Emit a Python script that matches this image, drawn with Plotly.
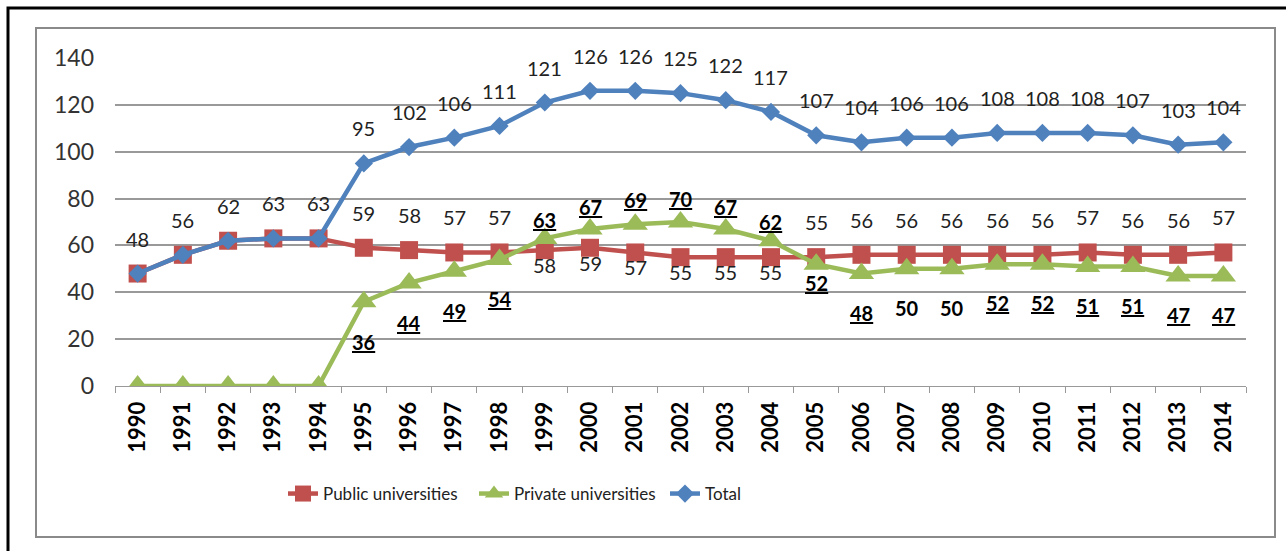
import plotly.graph_objects as go

years = [str(y) for y in range(1990, 2015)]
public = [48, 56, 62, 63, 63, 59, 58, 57, 57, 58, 59, 57, 55, 55, 55, 55, 56, 56, 56, 56, 56, 57, 56, 56, 57]
private = [0, 0, 0, 0, 0, 36, 44, 49, 54, 63, 67, 69, 70, 67, 62, 52, 48, 50, 50, 52, 52, 51, 51, 47, 47]
total = [48, 56, 62, 63, 63, 95, 102, 106, 111, 121, 126, 126, 125, 122, 117, 107, 104, 106, 106, 108, 108, 108, 107, 103, 104]
y_ticks = [0, 20, 40, 60, 80, 100, 120, 140]

# label styling (offsets in pixels, not data)
public_shift = [None] * 5 + [35] * 4 + [-15] * 6 + [35] * 10
private_shift = [None] * 5 + [-40] * 4 + [18, 22, 24, 23, 22, 19] + [-19] + [-39] * 9
private_underline = [True] * 25
private_underline[17] = False
private_underline[18] = False

RED = "#C0504D"
GREEN = "#9BBB59"
BLUE = "#4F81BD"
FONT = "Lato"

ML, MR, MT, MB = 115, 40, 58, 165
W, H = 1286, 551
PW, PH = W - ML - MR, H - MT - MB


def px(x):
    return (x - ML) / PW


def py(y):
    return (H - MB - y) / PH


fig = go.Figure()
fig.add_trace(go.Scatter(
    x=years, y=public, name="Public universities", mode="lines+markers",
    line=dict(color=RED, width=4.5),
    marker=dict(symbol="square", size=18, color=RED)))
fig.add_trace(go.Scatter(
    x=years, y=private, name="Private universities", mode="lines+markers",
    line=dict(color=GREEN, width=4.5),
    marker=dict(symbol="triangle-up", size=22, color=GREEN)))
fig.add_trace(go.Scatter(
    x=years, y=total, name="Total", mode="lines+markers",
    line=dict(color=BLUE, width=4.5),
    marker=dict(symbol="diamond", size=14, color=BLUE)))

annotations = []
for i, yr in enumerate(years):
    annotations.append(dict(x=i, y=total[i], xref="x", yref="y", text=str(total[i]), yshift=35,
                            showarrow=False, font=dict(family=FONT, size=20, color="#222")))
    if public_shift[i] is not None:
        annotations.append(dict(x=i, y=public[i], xref="x", yref="y", text=str(public[i]),
                                yshift=public_shift[i], showarrow=False,
                                font=dict(family=FONT, size=20, color="#222")))
    if private_shift[i] is not None:
        t = f"<b>{private[i]}</b>"
        if private_underline[i]:
            t = f"<u>{t}</u>"
        annotations.append(dict(x=i, y=private[i], xref="x", yref="y", text=t,
                                yshift=private_shift[i], showarrow=False,
                                font=dict(family=FONT, size=20, color="#000")))

shapes = [
    dict(type="rect", xref="paper", yref="paper",
         x0=px(8), x1=px(1292), y0=py(8), y1=py(560),
         line=dict(color="#000", width=3), layer="below"),
    dict(type="rect", xref="paper", yref="paper",
         x0=px(36), x1=px(1275), y0=py(28), y1=py(537),
         line=dict(color="#8a8a8a", width=2), layer="below"),
]

fig.update_layout(
    width=W, height=H,
    margin=dict(l=ML, r=MR, t=MT, b=MB),
    paper_bgcolor="white", plot_bgcolor="white",
    font=dict(family=FONT, size=18, color="#222"),
    showlegend=True,
    legend=dict(orientation="h", x=px(283), xanchor="left", y=py(494), yanchor="middle",
                font=dict(family=FONT, size=17, color="#222"),
                itemwidth=30, tracegroupgap=0,
                entrywidth=146, entrywidthmode="pixels"),
    annotations=annotations,
    shapes=shapes,
    xaxis=dict(type="category", range=[-0.5, 24.5], tickangle=-90, tickson="boundaries",
               ticks="outside", ticklen=6, tickcolor="#999", showgrid=False,
               showline=True, linecolor="#999", linewidth=1, ticklabelstandoff=6,
               tickfont=dict(family=FONT, size=22, color="#000", weight="bold")),
    yaxis=dict(range=[0, 140], tickvals=y_ticks, showgrid=True, gridcolor="#999",
               gridwidth=1.5, zeroline=False, showline=False,
               ticklabelstandoff=20,
               tickfont=dict(family=FONT, size=23, color="#333")),
)

fig.write_html("out.html")
